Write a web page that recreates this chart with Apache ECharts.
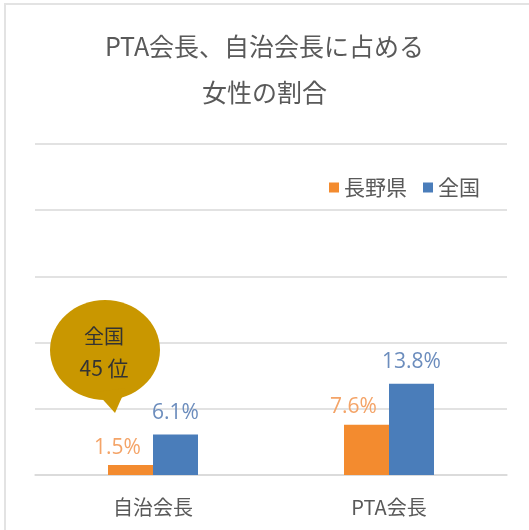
<!DOCTYPE html>
<html>
<head>
<meta charset="utf-8">
<script src="https://cdn.jsdelivr.net/npm/echarts@6/dist/echarts.min.js"></script>
<style>
  html, body { margin: 0; padding: 0; background: #fff; }
  #chart { width: 529px; height: 530px; }
</style>
</head>
<body>
<div id="chart"></div>
<script>
var categories = ['自治会長', 'PTA会長']
var seriesNames = ['長野県', '全国']
var naganoValues = [1.5, 7.6]
var zenkokuValues = [6.1, 13.8]
var calloutLines = ['全国', '45 位']

var fontJP = '"Noto Sans CJK JP", "Noto Sans", sans-serif'

var myChart = echarts.init(document.getElementById('chart'))

var option = {
  backgroundColor: '#fff',
  animation: false,
  title: {
    text: 'PTA会長、自治会長に占める\n女性の割合',
    left: 'center',
    top: 18,
    textStyle: {
      color: '#595959',
      fontSize: 25,
      fontWeight: 'normal',
      lineHeight: 46,
      fontFamily: fontJP
    }
  },
  legend: {
    data: seriesNames,
    right: 44,
    top: 172,
    itemWidth: 10,
    itemHeight: 10,
    itemGap: 16,
    icon: 'rect',
    textStyle: { color: '#595959', fontSize: 21, fontFamily: fontJP }
  },
  grid: { left: 35, right: 22, top: 144, bottom: 55 },
  xAxis: {
    type: 'category',
    data: categories,
    axisLine: { lineStyle: { color: '#d9d9d9', width: 1.5 } },
    axisTick: { show: false },
    axisLabel: { color: '#595959', fontSize: 20, margin: 22, fontFamily: fontJP }
  },
  yAxis: {
    type: 'value',
    min: 0,
    max: 50,
    interval: 10,
    axisLabel: { show: false },
    axisLine: { show: false },
    axisTick: { show: false },
    splitLine: { lineStyle: { color: '#d9d9d9', width: 1.5 } }
  },
  series: [
    {
      name: seriesNames[0],
      type: 'bar',
      data: naganoValues,
      barWidth: 45,
      barGap: '0%',
      itemStyle: { color: '#F38B2F' },
      label: {
        show: true,
        position: 'top',
        distance: 7,
        offset: [-13, 0],
        formatter: '{c}%',
        color: '#F4A468',
        fontSize: 21,
        fontFamily: '"Open Sans", sans-serif'
      }
    },
    {
      name: seriesNames[1],
      type: 'bar',
      data: zenkokuValues,
      barWidth: 45,
      itemStyle: { color: '#4A7DBA' },
      label: {
        show: true,
        position: 'top',
        distance: 11,
        formatter: '{c}%',
        color: '#6C8DBD',
        fontSize: 21,
        fontFamily: '"Open Sans", sans-serif'
      }
    }
  ],
  graphic: [
    { type: 'rect', shape: { x: 4, y: 3, width: 525, height: 2 }, style: { fill: '#e3e3e3' } },
    { type: 'rect', shape: { x: 4, y: 3, width: 2, height: 527 }, style: { fill: '#e3e3e3' } },
    {
      type: 'group',
      z: 100,
      children: [
        { type: 'ellipse', z: 100, shape: { cx: 105, cy: 350, rx: 55, ry: 50 }, style: { fill: '#C99700' } },
        { type: 'polygon', z: 100, shape: { points: [[96, 392], [126, 388], [115, 413]] }, style: { fill: '#C99700' } },
        {
          type: 'text',
          z: 101,
          x: 104, y: 336,
          style: { text: calloutLines[0], fill: '#333', fontSize: 20, fontFamily: fontJP, align: 'center', verticalAlign: 'middle' }
        },
        {
          type: 'text',
          z: 101,
          x: 104, y: 368,
          style: { text: calloutLines[1], fill: '#333', fontSize: 21, fontFamily: fontJP, align: 'center', verticalAlign: 'middle' }
        }
      ]
    }
  ]
}

myChart.setOption(option)
</script>
</body>
</html>
